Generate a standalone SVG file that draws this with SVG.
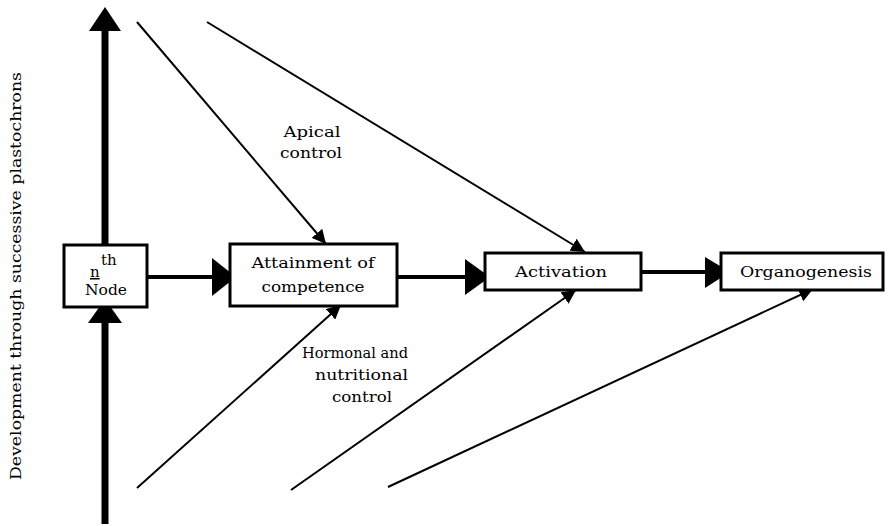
<svg xmlns="http://www.w3.org/2000/svg" width="891" height="526" viewBox="0 0 891 526">
<style>
.box{fill:#fff;stroke:#000;stroke-width:3}
.t{font-family:"DejaVu Serif","Liberation Serif",serif;font-size:15px;fill:#000}
.thick{stroke:#000;stroke-width:7;fill:none}
.mid{stroke:#000;stroke-width:4;fill:none}
.thin{stroke:#000;stroke-width:2;fill:none}
</style>
<defs>
<marker id="sm" viewBox="0 0 10 10" refX="10" refY="5" markerWidth="7" markerHeight="7" markerUnits="strokeWidth" orient="auto">
<path d="M0,0 L10,5 L0,10 z" fill="#000"/>
</marker>
</defs>
<rect width="891" height="526" fill="#fff"/>
<text class="t" transform="translate(21,276) rotate(-90)" text-anchor="middle" textLength="408" lengthAdjust="spacingAndGlyphs">Development through successive plastochrons</text>
<g id="connectors">
<line class="thick" x1="105" y1="28" x2="105" y2="246"/>
<polygon points="105,7 89,31 121,31" fill="#000"/>
<line class="thick" x1="105" y1="524" x2="105" y2="320"/>
<polygon points="105,299 88,323 122,323" fill="#000"/>
<line class="mid" x1="147" y1="277" x2="214" y2="277"/>
<polygon points="212,258 212,296 236,277" fill="#000"/>
<line class="mid" x1="397" y1="277" x2="467" y2="277"/>
<polygon points="465,259 465,295 490,277" fill="#000"/>
<line class="mid" x1="641" y1="272" x2="707" y2="272"/>
<polygon points="705,257 705,288 730,272" fill="#000"/>
<line class="thin" x1="137" y1="22" x2="326" y2="244" marker-end="url(#sm)"/>
<line class="thin" x1="207" y1="22" x2="585" y2="252" marker-end="url(#sm)"/>
<line class="thin" x1="137" y1="488" x2="341" y2="305" marker-end="url(#sm)"/>
<line class="thin" x1="291" y1="490" x2="576" y2="290" marker-end="url(#sm)"/>
<line class="thin" x1="388" y1="487" x2="813" y2="289" marker-end="url(#sm)"/>
</g>
<g id="node-nth">
<rect class="box" x="64" y="245" width="83" height="62"/>
<text class="t" x="90" y="277" text-decoration="underline">n</text>
<text class="t" x="101" y="265" font-size="14">th</text>
<text class="t" x="106" y="295" text-anchor="middle" textLength="42" lengthAdjust="spacingAndGlyphs">Node</text>
</g>
<g id="node-attainment">
<rect class="box" x="230" y="244" width="167" height="62"/>
<text class="t" x="313" y="268" text-anchor="middle" textLength="123" lengthAdjust="spacingAndGlyphs">Attainment of</text>
<text class="t" x="313" y="292" text-anchor="middle" textLength="103" lengthAdjust="spacingAndGlyphs">competence</text>
</g>
<g id="node-activation">
<rect class="box" x="485" y="253" width="156" height="37"/>
<text class="t" x="561" y="277" text-anchor="middle" textLength="92" lengthAdjust="spacingAndGlyphs">Activation</text>
</g>
<g id="node-organogenesis">
<rect class="box" x="721" y="253" width="162" height="37"/>
<text class="t" x="806" y="277" text-anchor="middle" textLength="132" lengthAdjust="spacingAndGlyphs">Organogenesis</text>
</g>
<g id="label-apical">
<text class="t" x="312" y="137" text-anchor="middle" textLength="57" lengthAdjust="spacingAndGlyphs">Apical</text>
<text class="t" x="311" y="158" text-anchor="middle" textLength="62" lengthAdjust="spacingAndGlyphs">control</text>
</g>
<g id="label-hormonal">
<text class="t" x="302" y="358" textLength="106" lengthAdjust="spacingAndGlyphs">Hormonal and</text>
<text class="t" x="315" y="380" textLength="93" lengthAdjust="spacingAndGlyphs">nutritional</text>
<text class="t" x="332" y="402" textLength="60" lengthAdjust="spacingAndGlyphs">control</text>
</g>
</svg>
